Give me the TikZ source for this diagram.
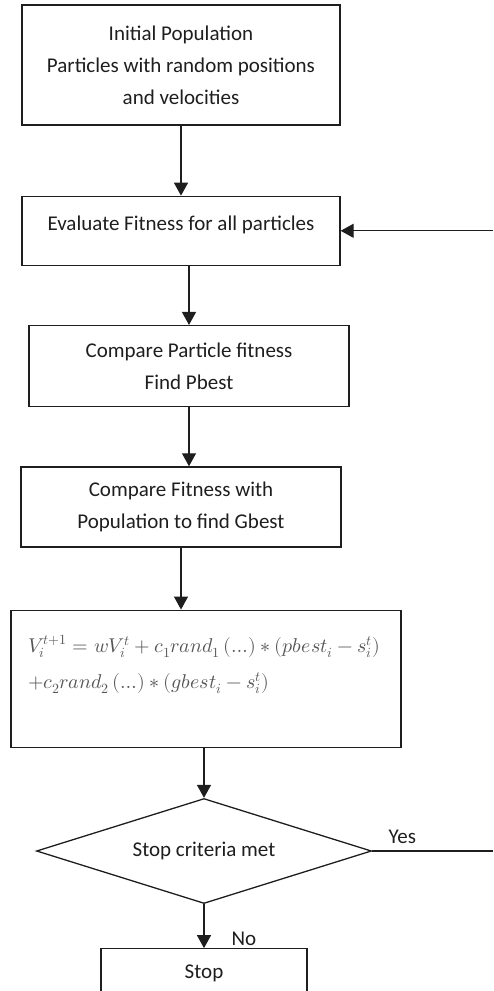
\documentclass[tikz,border=0pt]{standalone}
\usepackage{amsmath}
\usepackage{fontspec}
\usepackage{unicode-math}
\setmainfont{Carlito}
\setmathfont{Latin Modern Math}
\usepackage{tikz}
\usetikzlibrary{arrows.meta,positioning,shapes.geometric}
\definecolor{Ink}{HTML}{1E1E1E}
\definecolor{Formula}{HTML}{555555}

\begin{document}
\begin{tikzpicture}[x=1pt, y=1pt, font=\fontsize{21}{32}\selectfont, >={Triangle[width=14pt,length=13pt]}]
\tikzset{box/.style={draw=Ink, line width=1.3pt, text=Ink, align=center, minimum width=318pt, inner sep=0pt}, decide/.style={draw=Ink, line width=1.3pt, text=Ink, diamond, aspect=3.2, minimum width=335pt, minimum height=105pt, inner sep=0pt}, arr/.style={->, draw=Ink, line width=1.3pt}, lbl/.style={text=Ink, inner sep=1pt}}
\useasboundingbox (0,0) rectangle (493,-991);
\node[box, minimum height=120pt] (o) at (181,-65) {Initial Population\\Particles with random positions\\and velocities};
\node[box, minimum height=69pt, text depth=16pt, below=70pt of o] (e) {Evaluate Fitness for all particles};
\node[box, minimum width=320pt, minimum height=81pt, below=59pt of e, xshift=8pt] (p) {Compare Particle fitness\\Find Pbest};
\node[box, minimum width=320pt, minimum height=80pt, below=59pt of p, xshift=-8pt] (g) {Compare Fitness with\\Population to find Gbest};
\node[box, minimum width=390pt, minimum height=137pt, below=62pt of g, xshift=25pt, align=left, text width=356pt, text depth=70pt, text=Formula, font=\fontsize{20}{36}\selectfont] (v) {$V_i^{t+1} = wV_i^{t} + c_1 rand_1\left(\ldots\right)*\left(pbest_i - s_i^{t}\right)$\\$+c_2 rand_2\left(\ldots\right)*\left(gbest_i - s_i^{t}\right)$};
\node[decide, below=50pt of v, xshift=-2pt] (d) {Stop criteria met};
\node[box, minimum width=206pt, minimum height=50pt, below=44pt of d] (s) {Stop};
% loose ends at the right edge
\coordinate (back) at (493,0 |- e.east);
\coordinate (yes) at (493,0 |- d.east);
\draw[arr] (o.south) -- (e.north);
\draw[arr] (p.north |- e.south) -- (p.north);
\draw[arr] (p.south) -- (p.south |- g.north);
\draw[arr] (g.south) -- (g.south |- v.north);
\draw[arr] (v.south -| d.north) -- (d.north);
\draw[arr] (d.south) -- node[lbl, pos=0.78, right=26pt] (no) {No} (s.north);
\draw[draw=Ink, line width=1.3pt] (d.east) -- node[lbl, pos=0.25, above=6pt] (yl) {Yes} (yes);
\draw[arr] (back) -- (e.east);
\end{tikzpicture}
\end{document}
